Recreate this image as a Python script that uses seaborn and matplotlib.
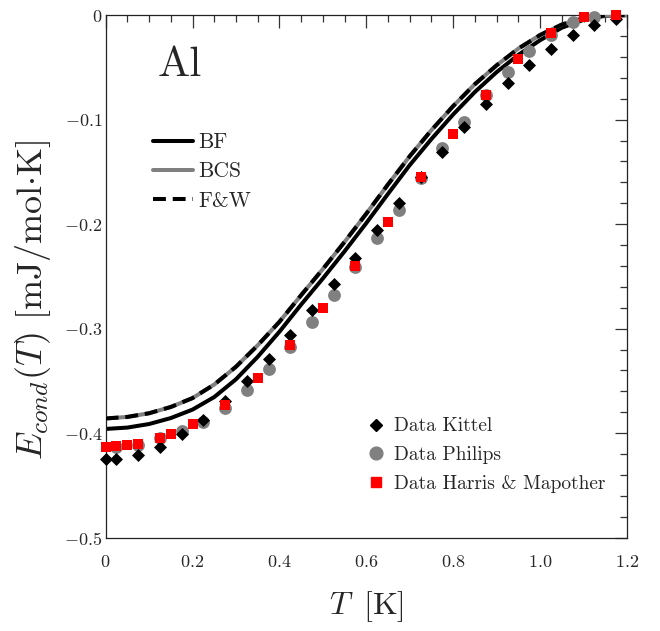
import matplotlib
matplotlib.use("Agg")
import matplotlib.pyplot as plt
import seaborn as sns
import pandas as pd
from matplotlib.ticker import MultipleLocator, FixedLocator, FixedFormatter
from matplotlib.lines import Line2D

# ---------------- data ----------------
T_curve = [0.0, 0.05, 0.10, 0.15, 0.20, 0.25, 0.30, 0.35, 0.40, 0.45, 0.50, 0.55,
           0.60, 0.65, 0.70, 0.75, 0.80, 0.85, 0.90, 0.95, 1.00, 1.05, 1.10, 1.15, 1.20]
E_BF = [-0.396, -0.3947, -0.3913, -0.3856, -0.3775, -0.3655, -0.3485, -0.327, -0.303,
        -0.277, -0.252, -0.226, -0.199, -0.171, -0.1435, -0.1185, -0.095, -0.0735,
        -0.0545, -0.038, -0.024, -0.012, -0.0045, -0.0006, 0.0]
E_BCS = [-0.386, -0.3845, -0.381, -0.375, -0.3665, -0.3535, -0.3365, -0.316, -0.2935,
         -0.268, -0.243, -0.217, -0.190, -0.162, -0.135, -0.110, -0.087, -0.066,
         -0.048, -0.032, -0.019, -0.009, -0.003, -0.0003, 0.0]
E_FW = [-0.386, -0.3845, -0.381, -0.375, -0.3665, -0.3535, -0.3365, -0.316, -0.2935,
        -0.268, -0.243, -0.217, -0.190, -0.162, -0.135, -0.110, -0.087, -0.066,
        -0.048, -0.032, -0.019, -0.009, -0.003, -0.0003, 0.0]

T_kittel = [0.0, 0.025, 0.075, 0.125, 0.175, 0.225, 0.275, 0.325, 0.375, 0.425, 0.475,
            0.525, 0.575, 0.625, 0.675, 0.725, 0.775, 0.825, 0.875, 0.925, 0.975,
            1.025, 1.075, 1.125, 1.175]
E_kittel = [-0.425, -0.425, -0.421, -0.413, -0.401, -0.387, -0.369, -0.350, -0.329,
            -0.306, -0.282, -0.257, -0.232, -0.206, -0.180, -0.155, -0.131, -0.107,
            -0.085, -0.065, -0.048, -0.032, -0.019, -0.0096, -0.004]

T_philips = [0.025, 0.075, 0.125, 0.175, 0.225, 0.275, 0.325, 0.375, 0.425, 0.475,
             0.525, 0.575, 0.625, 0.675, 0.725, 0.775, 0.825, 0.875, 0.925, 0.975,
             1.025, 1.075, 1.125]
E_philips = [-0.413, -0.411, -0.405, -0.398, -0.389, -0.376, -0.359, -0.339, -0.318,
             -0.294, -0.268, -0.241, -0.2135, -0.186, -0.156, -0.127, -0.102, -0.076,
             -0.054, -0.034, -0.019, -0.007, -0.0015]

T_harris = [0.0, 0.025, 0.05, 0.075, 0.125, 0.15, 0.2, 0.275, 0.35, 0.425, 0.5, 0.575,
            0.65, 0.725, 0.8, 0.875, 0.95, 1.025, 1.1, 1.175]
E_harris = [-0.413, -0.412, -0.411, -0.410, -0.405, -0.401, -0.391, -0.373, -0.347,
            -0.316, -0.280, -0.240, -0.198, -0.155, -0.114, -0.076, -0.042, -0.017,
            -0.002, 0.0]

x_ticks = [0.0, 0.2, 0.4, 0.6, 0.8, 1.0, 1.2]
x_tick_labels = ["$0$", "$0.2$", "$0.4$", "$0.6$", "$0.8$", "$1.0$", "$1.2$"]
y_ticks = [0.0, -0.1, -0.2, -0.3, -0.4, -0.5]
y_tick_labels = ["$0$", "$-0.1$", "$-0.2$", "$-0.3$", "$-0.4$", "$-0.5$"]

# ---------------- style ----------------
sns.set_style("white")
plt.rcParams["font.family"] = ["cmr10", "DejaVu Serif"]
plt.rcParams["mathtext.fontset"] = "cm"
plt.rcParams["axes.formatter.use_mathtext"] = True
plt.rcParams["axes.unicode_minus"] = True

fig = plt.figure(figsize=(6.6, 6.31), dpi=100)
ax = fig.add_axes([0.160, 0.148, 0.790, 0.828])

lw = 2.9
dash = (0, (3.2, 1.7))
curves = pd.DataFrame({"T": T_curve, "BF": E_BF, "BCS": E_BCS, "FW": E_FW})
sns.lineplot(data=curves, x="T", y="BF", color="black", lw=lw, ax=ax, zorder=2)
sns.lineplot(data=curves, x="T", y="BCS", color="#808080", lw=lw, ax=ax, zorder=3)
sns.lineplot(data=curves, x="T", y="FW", color="black", lw=lw, ax=ax, zorder=4,
             linestyle=dash)

d_ph = pd.DataFrame({"T": T_philips, "E": E_philips})
d_ki = pd.DataFrame({"T": T_kittel, "E": E_kittel})
d_ha = pd.DataFrame({"T": T_harris, "E": E_harris})
sns.scatterplot(data=d_ph, x="T", y="E", marker="o", s=85, color="#808080",
                linewidth=0, ax=ax, zorder=5, clip_on=False)
sns.scatterplot(data=d_ki, x="T", y="E", marker="D", s=44, color="black",
                linewidth=0, ax=ax, zorder=6, clip_on=False)
sns.scatterplot(data=d_ha, x="T", y="E", marker="s", s=50, color="#ff0000",
                linewidth=0, ax=ax, zorder=7, clip_on=False)

ax.set_xlim(0, 1.2)
ax.set_ylim(-0.5, 0)
ax.xaxis.set_major_locator(FixedLocator(x_ticks))
ax.xaxis.set_major_formatter(FixedFormatter(x_tick_labels))
ax.yaxis.set_major_locator(FixedLocator(y_ticks))
ax.yaxis.set_major_formatter(FixedFormatter(y_tick_labels))
ax.xaxis.set_minor_locator(MultipleLocator(0.05))
ax.yaxis.set_minor_locator(MultipleLocator(0.02))
ax.tick_params(which="both", direction="in", top=True, right=True,
               width=0.9, color="#333333", labelsize=13)
ax.tick_params(which="major", length=9)
ax.tick_params(which="minor", length=4.7)
ax.tick_params(axis="x", which="major", pad=12)
ax.tick_params(axis="y", which="major", pad=2.5)
for sp in ax.spines.values():
    sp.set_linewidth(0.9)
    sp.set_color("#222222")

ax.set_xlabel(r"$T\;\;[\mathrm{K}]$", fontsize=23)
ax.xaxis.set_label_coords(0.5, -0.099)
ax.set_ylabel(r"$E_{cond}(T)\ [\mathrm{mJ/mol{\cdot}K}]$", fontsize=26)
ax.yaxis.set_label_coords(-0.101, 0.455)

ax.text(0.10, 0.905, "Al", transform=ax.transAxes, fontsize=31, va="center", ha="left")

# legends
h1 = [Line2D([], [], color="black", lw=lw),
      Line2D([], [], color="#808080", lw=lw),
      Line2D([], [], color="black", lw=lw, linestyle=dash)]
leg1 = ax.legend(h1, ["BF", "BCS", "F&W"], loc="upper left",
                 bbox_to_anchor=(0.091, 0.775), frameon=False, fontsize=15.5,
                 handlelength=1.85, handletextpad=0.25, labelspacing=0.45,
                 borderpad=0, borderaxespad=0)
ax.add_artist(leg1)

h2 = [Line2D([], [], color="black", marker="D", ms=6.6, lw=0),
      Line2D([], [], color="#808080", marker="o", ms=9.2, lw=0),
      Line2D([], [], color="#ff0000", marker="s", ms=7.0, lw=0)]
leg2 = ax.legend(h2, ["Data Kittel", "Data Philips", "Data Harris & Mapother"],
                 loc="upper left", bbox_to_anchor=(0.50, 0.230), frameon=False,
                 fontsize=14, handlelength=1.0, handletextpad=0.45,
                 labelspacing=0.55, borderpad=0, borderaxespad=0)

fig.savefig("out.png", dpi=100)
